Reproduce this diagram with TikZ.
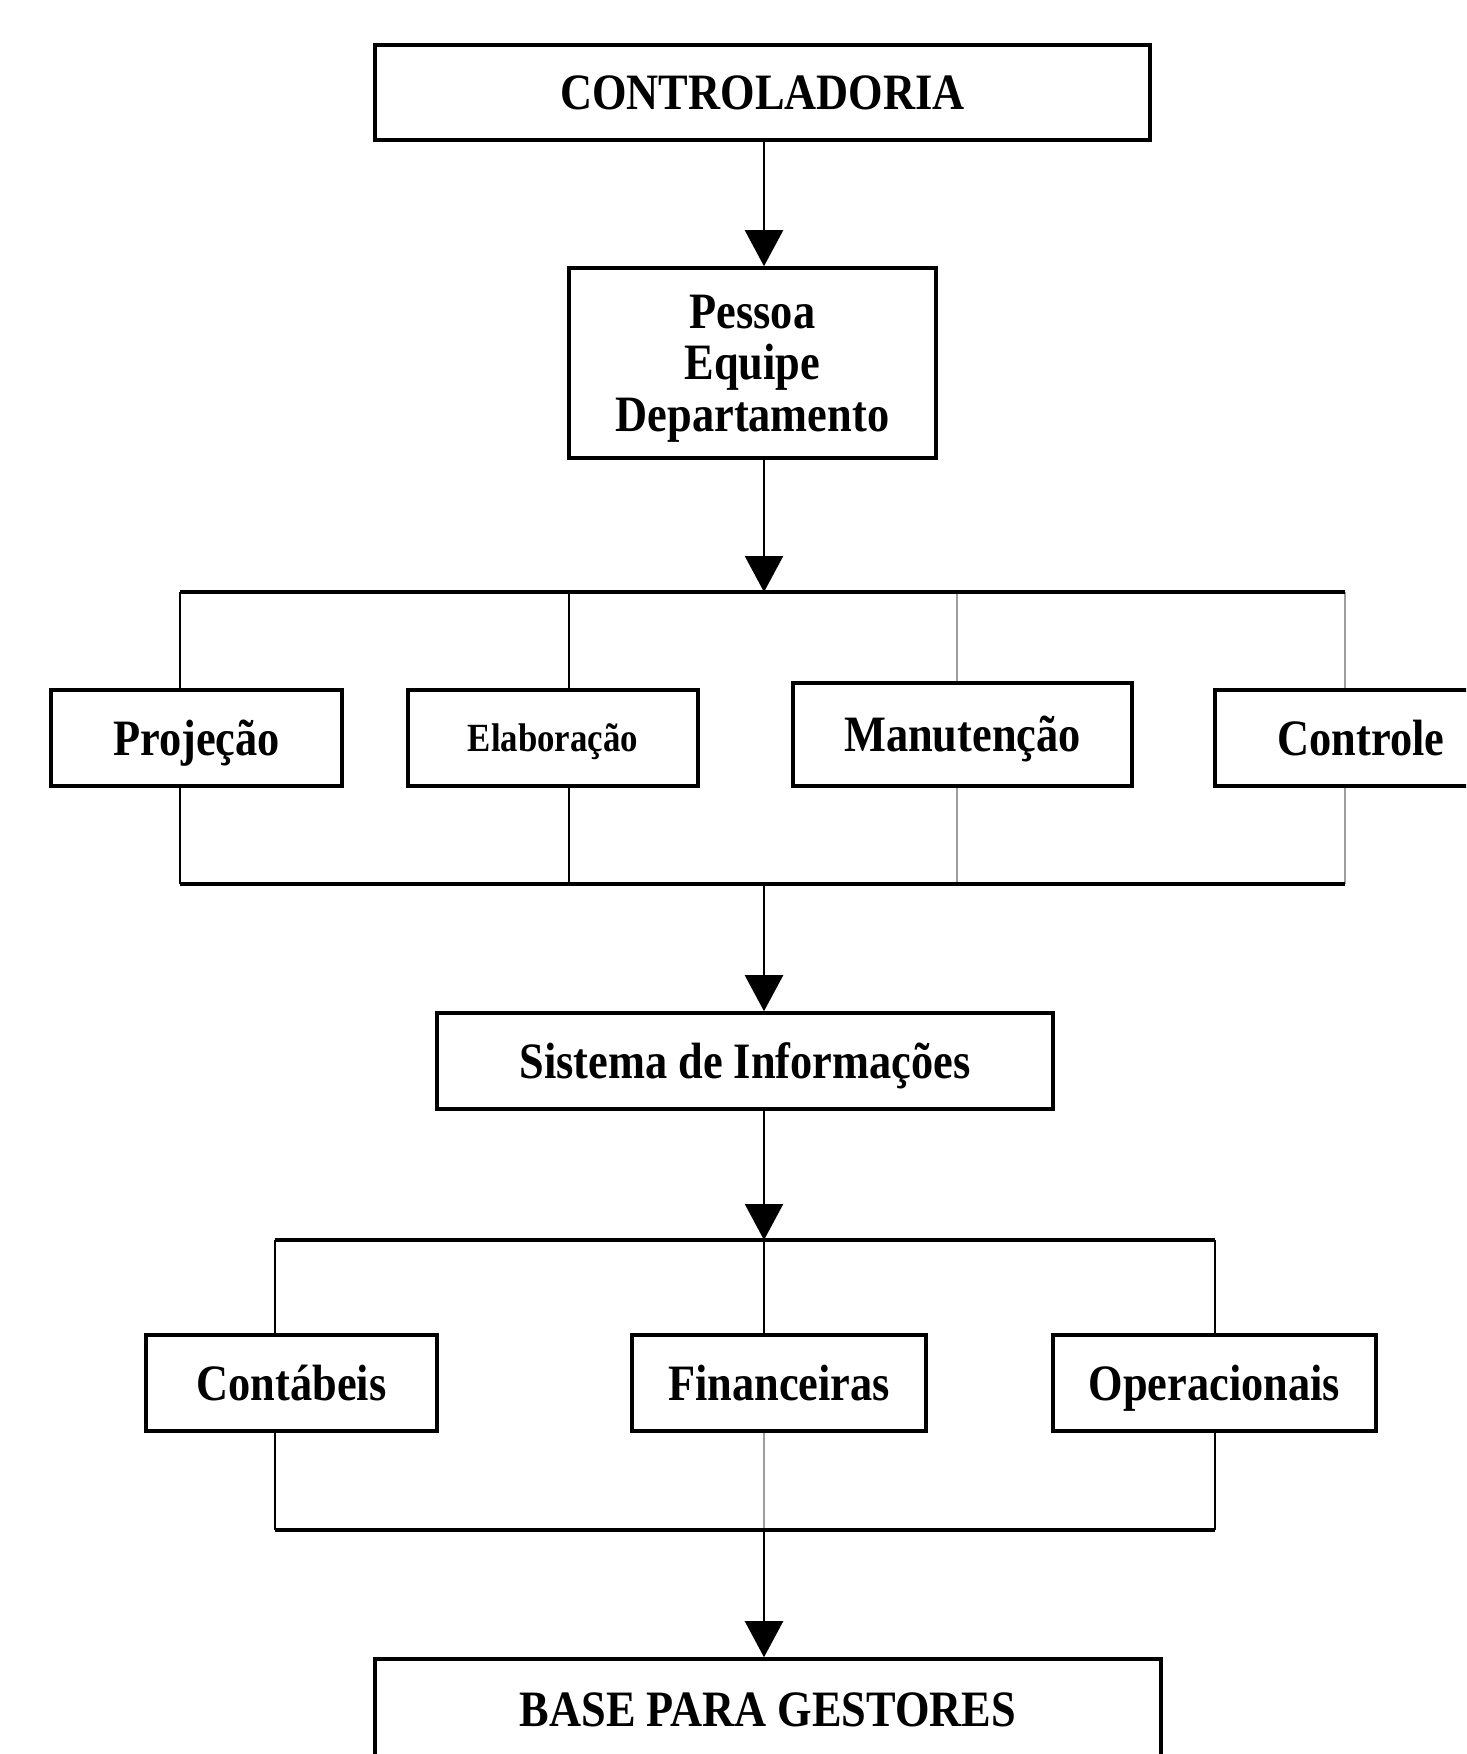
\documentclass[tikz,border=0pt]{standalone}
\usepackage{fontspec}
\setmainfont{Liberation Serif}[FakeStretch=0.87]
\usetikzlibrary{arrows.meta}
\begin{document}
\begin{tikzpicture}[x=0.5pt,y=-0.5pt,
  box/.style={draw=black, line width=1.8pt, fill=white, inner sep=0pt, align=center,
    text height=20pt, text depth=3pt,
    font=\fontsize{25.5}{25.7}\selectfont\bfseries},
  bus/.style={line width=2.2pt, black},
  conn/.style={line width=1.2pt, black},
  thinconn/.style={line width=0.9pt, black},
  grayconn/.style={line width=1.2pt, black!38},
  arr/.style={line width=1.2pt, -{Triangle[length=18pt,width=19pt]}}]
\useasboundingbox (0,0) rectangle (1466,1754);
\clip (0,0) rectangle (1466,1754);
\fill[white] (0,0) rectangle (1466,1754);

% spine
\coordinate (spine) at (764,0);

% boxes
\node[box, minimum width=387.5pt, minimum height=47.5pt] (ctrl) at (762.5,92.5) {CONTROLADORIA};
\node[box, minimum width=183.5pt, minimum height=95pt, text height=71.4pt, text depth=3pt] (pessoa) at (752.5,363) {Pessoa\\Equipe\\Departamento};

\node[box, minimum width=145.5pt, minimum height=48pt] (proj) at (196.5,738) {Projeção};
\node[box, minimum width=145pt, minimum height=48pt, text height=16pt, text depth=2.8pt,
      font=\fontsize{20}{22}\selectfont\bfseries] (elab) at (553,738) {Elaboração};
\node[box, minimum width=169.5pt, minimum height=51.5pt] (manu) at (962.5,734.5) {Manutenção};
\node[box, minimum width=146pt, minimum height=48pt] (contr) at (1361,738) {Controle};

\node[box, minimum width=308pt, minimum height=48pt] (sist) at (745,1061) {Sistema de Informações};

\node[box, minimum width=145.5pt, minimum height=48pt] (cont) at (291.5,1383) {Contábeis};
\node[box, minimum width=147pt, minimum height=48pt] (fin) at (779,1383) {Financeiras};
\node[box, minimum width=161.5pt, minimum height=48pt] (oper) at (1214.5,1383) {Operacionais};

\node[box, minimum width=393pt, minimum height=50.5pt] (base) at (768,1709.5) {BASE PARA GESTORES};

% bus coordinates
\coordinate (b1L) at (180,592);  \coordinate (b1R) at (1345,592);
\coordinate (b1E) at (569,592);  \coordinate (b1M) at (957,592);
\coordinate (b1S) at (764,592);
\coordinate (b2L) at (180,884);  \coordinate (b2R) at (1345,884);
\coordinate (b2E) at (569,884);  \coordinate (b2M) at (957,884);
\coordinate (b2S) at (764,884);
\coordinate (b3L) at (275,1240); \coordinate (b3R) at (1215,1240);
\coordinate (b3S) at (764,1240);
\coordinate (b4L) at (275,1530); \coordinate (b4R) at (1215,1530);
\coordinate (b4S) at (764,1530);

% arrows on spine
\draw[arr] (ctrl.south -| spine) -- (pessoa.north -| spine);
\draw[arr] (pessoa.south -| spine) -- (b1S);
\draw[arr] (b2S) -- (sist.north -| spine);
\draw[arr] (sist.south -| spine) -- (b3S);
\draw[arr] (b4S) -- (base.north -| spine);

% first group verticals
\draw[conn] (b1L) -- (b1L |- proj.north);
\draw[conn] (proj.south -| b1L) -- (b2L);
\draw[thinconn] (b1E) -- (b1E |- elab.north);
\draw[thinconn] (elab.south -| b1E) -- (b2E);
\draw[grayconn] (b1M) -- (b1M |- manu.north);
\draw[grayconn] (manu.south -| b1M) -- (b2M);
\draw[grayconn] (b1R) -- (b1R |- contr.north);
\draw[grayconn] (contr.south -| b1R) -- (b2R);

% second group verticals
\draw[conn] (b3L) -- (b3L |- cont.north);
\draw[conn] (cont.south -| b3L) -- (b4L);
\draw[thinconn] (b3S) -- (b3S |- fin.north);
\draw[grayconn] (fin.south -| b3S) -- (b4S);
\draw[conn] (b3R) -- (b3R |- oper.north);
\draw[conn] (oper.south -| b3R) -- (b4R);

% buses
\draw[bus] (b1L) -- (b1R);
\draw[bus] (b2L) -- (b2R);
\draw[bus] (b3L) -- (b3R);
\draw[bus] (b4L) -- (b4R);
\end{tikzpicture}
\end{document}
